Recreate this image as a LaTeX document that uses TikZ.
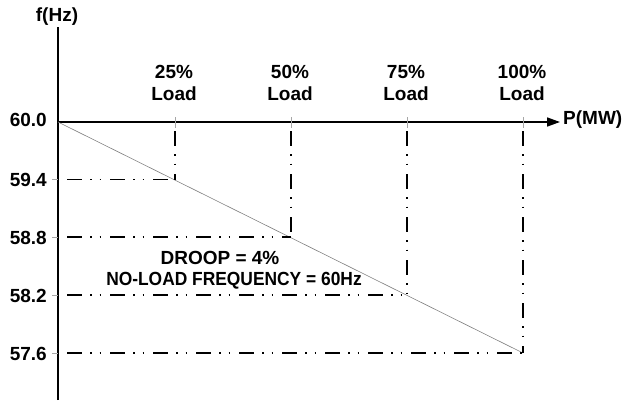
\documentclass[tikz,border=0pt]{standalone}
\usepackage{fontspec}
\setmainfont{Liberation Sans}
\usetikzlibrary{arrows.meta}
\begin{document}
\begin{tikzpicture}[x=1pt,y=-1pt,
  lbl/.style={font=\bfseries\fontsize{19}{22}\selectfont, inner sep=0pt},
  axis/.style={line width=1.6pt, black},
  tickmark/.style={line width=0.6pt, gray!70},
  droopline/.style={line width=0.6pt, gray},
  guide/.style={line width=1.8pt, black,
    dash pattern=on 0pt off 9pt on 15pt off 8pt on 1.5pt off 8pt on 1.5pt off 0pt}]
\useasboundingbox (0,0) rectangle (624,400);

% axes
\coordinate (o) at (58,122);
\coordinate (ytop) at (58,27);
\coordinate (ybot) at (58,400);
\coordinate (xend) at (560,122);
\draw[axis] (ybot) -- (ytop);
\draw[axis, -{Triangle[length=13pt,width=9pt]}] (o) -- (xend);

\node[lbl] (fhz) at (57,17) {f(Hz)};
\node[lbl, anchor=west] (pmw) at (563,120) {P(MW)};

% frequency levels and load points on the droop line
\coordinate (f0) at (58,122);
\coordinate (f1) at (58,179.5);
\coordinate (f2) at (58,237);
\coordinate (f3) at (58,295);
\coordinate (f4) at (58,353);
\coordinate (p1) at (175,179.5);
\coordinate (p2) at (291,237);
\coordinate (p3) at (407,295);
\coordinate (p4) at (523,353);
\coordinate (a1) at (175,122);
\coordinate (a2) at (291,122);
\coordinate (a3) at (407,122);
\coordinate (a4) at (523,122);

\node[lbl, anchor=east] (v0) at (47,119.5) {60.0};
\node[lbl, anchor=east] (v1) at (47,180) {59.4};
\node[lbl, anchor=east] (v2) at (47,237.5) {58.8};
\node[lbl, anchor=east] (v3) at (47,295.5) {58.2};
\node[lbl, anchor=east] (v4) at (47,353.5) {57.6};

% small ticks on the frequency axis
\foreach \f in {f1,f2,f3,f4}
  \draw[tickmark] ([xshift=-6pt]\f) -- (\f);
% small ticks on the power axis
\foreach \a in {a1,a2,a3,a4}
  \draw[tickmark] ([yshift=-6pt]\a) -- ([yshift=5pt]\a);

% load labels
\node[lbl, align=center] (l1) at (174,83) {25\%\\Load};
\node[lbl, align=center] (l2) at (290,83) {50\%\\Load};
\node[lbl, align=center] (l3) at (406,83) {75\%\\Load};
\node[lbl, align=center] (l4) at (522,83) {100\%\\Load};

% droop characteristic
\draw[droopline] (o) -- (p4);

% projection lines
\foreach \i in {1,2,3,4} {
  \draw[guide] (f\i) -- (p\i);
  \draw[guide] (a\i) -- (p\i);
}

\node[lbl] (droop) at (220,258) {DROOP = 4\%};
\node[lbl, xscale=0.915] (noload) at (234,280.5) {NO-LOAD FREQUENCY = 60Hz};
\end{tikzpicture}
\end{document}
